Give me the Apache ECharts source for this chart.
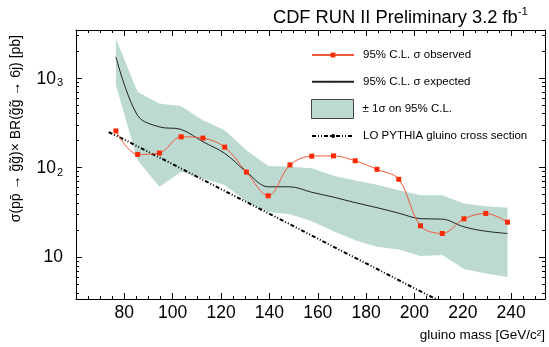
<!DOCTYPE html>
<html><head><meta charset="utf-8">
<script src="https://cdn.jsdelivr.net/npm/echarts@6/dist/echarts.min.js"></script>
<style>html,body{margin:0;padding:0;background:#fff}#c{width:549px;height:347px}</style>
</head><body><div id="c"></div>
<script>
// ---- data ----
const mass = [76.5, 85.5, 94.5, 103.5, 112.5, 121.5, 130.5, 139.5, 148.5, 157.5, 166.5, 175.5, 184.5, 193.5, 202.5, 211.5, 220.5, 229.5, 238.5];
const observed = [256, 140, 145, 220, 213, 169, 89, 48.4, 107, 134, 135, 119, 95.5, 74, 22.4, 18.4, 26.8, 30.8, 24.6];
const expected = [1715, 380, 284, 266, 194, 144, 89.6, 61, 61, 53, 46.8, 40.6, 35.7, 31, 26.9, 26.6, 21.8, 19.5, 18.4];
const bandHigh = [2750, 698, 519, 483, 337, 261, 156, 104, 102, 98, 81, 71.5, 64.4, 56, 49, 49, 39.8, 37, 35.6];
const bandLow = [829, 121, 61, 89.6, 75.5, 63.7, 41.5, 32, 30.2, 25.2, 19.5, 15.5, 13.1, 12.2, 10.3, 10.6, 7.4, 6.6, 6.0];
const loMass = [73.5, 80, 90, 100, 110, 120, 130, 140, 150, 160, 170, 180, 190, 200, 210, 220];
const loXsec = [248, 205, 149, 109, 79, 57.5, 41.9, 30.5, 22.2, 16.1, 11.7, 8.55, 6.2, 4.5, 3.3, 2.4];
const xMajorTicks = [80, 100, 120, 140, 160, 180, 200, 220, 240];
const xMinorTicks = [65, 70, 75, 85, 90, 95, 105, 110, 115, 125, 130, 135, 145, 150, 155, 165, 170, 175, 185, 190, 195, 205, 210, 215, 225, 230, 235, 245, 250];
const yMajorTicks = [10, 100, 1000];
const yMinorTicks = [4, 5, 6, 7, 8, 9, 20, 30, 40, 50, 60, 70, 80, 90, 200, 300, 400, 500, 600, 700, 800, 900, 2000, 3000];

const FF = '"Liberation Sans", Arial, Helvetica, sans-serif';
const BAND = '#bcd9d2';
const OBS_LINE = '#f2583a';
const OBS_MARK = '#ff2a00';
const X_MIN = 60, X_MAX = 254, Y_MIN = 3.42, Y_MAX = 3420;

const axLine = {color: '#000', width: 1};
function xAx(pos, ticks, len, withLabels, withLine) {
  return {
    type: 'value', position: pos, min: X_MIN, max: X_MAX,
    axisLine: {show: withLine, lineStyle: axLine},
    axisTick: {show: true, inside: true, length: len, customValues: ticks, lineStyle: axLine},
    axisLabel: withLabels ? {show: true, customValues: xMajorTicks, fontSize: 17.5, color: '#000', margin: 5, fontFamily: FF} : {show: false},
    splitLine: {show: false}
  };
}
function yAx(pos, ticks, len, withLabels, withLine) {
  return {
    type: 'log', position: pos, min: Y_MIN, max: Y_MAX, logBase: 10,
    axisLine: {show: withLine, lineStyle: axLine},
    axisTick: {show: true, inside: true, length: len, customValues: ticks, lineStyle: axLine},
    axisLabel: withLabels ? {
      show: true, customValues: yMajorTicks, color: '#000', margin: 13, fontFamily: FF, align: 'right',
      formatter: function (v) {
        const e = Math.round(Math.log10(v));
        if (e === 1) return '{p|10}';
        return '{b|10}{s|' + e + '}';
      },
      rich: {
        p: {fontSize: 17.5, fontFamily: FF, color: '#000'},
        b: {fontSize: 17.5, fontFamily: FF, color: '#000', lineHeight: 20, padding: [13, 0, 0, 0], verticalAlign: 'bottom'},
        s: {fontSize: 11, fontFamily: FF, color: '#000', lineHeight: 13, padding: [9.5, 0, 0, 1], verticalAlign: 'top'}
      }
    } : {show: false},
    splitLine: {show: false}
  };
}

const chart = echarts.init(document.getElementById('c'), null, {renderer: 'canvas'});
chart.setOption({
  animation: false,
  backgroundColor: '#fff',
  grid: {left: 76, right: 4, top: 30, bottom: 48, containLabel: false},
  title: {
    text: '{a|CDF RUN II Preliminary 3.2 fb}{s|-1}',
    right: 21, top: 6, padding: 0,
    textStyle: {fontWeight: 'normal', rich: {
      a: {fontSize: 18.3, fontFamily: FF, fontWeight: 'normal', color: '#000', lineHeight: 21, verticalAlign: 'bottom'},
      s: {fontSize: 11.5, fontFamily: FF, fontWeight: 'normal', color: '#000', lineHeight: 13, verticalAlign: 'top'}
    }}
  },
  xAxis: [
    xAx('bottom', xMajorTicks, 6, true, true),
    xAx('top', xMajorTicks, 6, false, true),
    xAx('bottom', xMinorTicks, 3, false, false),
    xAx('top', xMinorTicks, 3, false, false)
  ],
  yAxis: [
    yAx('left', yMajorTicks, 6, true, true),
    yAx('right', yMajorTicks, 6, false, true),
    yAx('left', yMinorTicks, 3, false, false),
    yAx('right', yMinorTicks, 3, false, false)
  ],
  legend: [
    {data: ['95% C.L. σ observed'], left: 311, top: 48, itemWidth: 42, itemHeight: 6, padding: 0, selectedMode: false,
      textStyle: {fontSize: 11.5, fontFamily: FF, color: '#000', lineHeight: 14, padding: [0, 0, 0, 4]}},
    {data: ['95% C.L. σ expected'], left: 311, top: 74.7, itemWidth: 42, itemHeight: 2, padding: 0, selectedMode: false,
      textStyle: {fontSize: 11.5, fontFamily: FF, color: '#000', lineHeight: 14, padding: [0, 0, 0, 4]}},
    {data: [{name: '± 1σ on 95% C.L.', icon: 'rect', itemStyle: {color: BAND, borderColor: '#444', borderWidth: 1}}],
      left: 311, top: 99, itemWidth: 42, itemHeight: 19, padding: 0, selectedMode: false,
      textStyle: {fontSize: 11.5, fontFamily: FF, color: '#000', lineHeight: 14, padding: [0, 0, 0, 4]}},
    {data: ['LO PYTHIA gluino cross section'], left: 311, top: 129, itemWidth: 42, itemHeight: 5, padding: 0, selectedMode: false,
      textStyle: {fontSize: 11.5, fontFamily: FF, color: '#000', lineHeight: 14, padding: [0, 0, 0, 4]}}
  ],
  graphic: [
    {type: 'text', x: 545, y: 335, style: {text: 'gluino mass [GeV/c²]', fontSize: 13.5, fontFamily: FF, fill: '#000', align: 'right', verticalAlign: 'middle'}},
    {type: 'text', x: 16, y: 35, rotation: Math.PI / 2,
      style: {text: 'σ(pp\u0304 → g\u0303g\u0303)× BR(g\u0303g\u0303 → 6j) [pb]', fontSize: 14, fontFamily: FF, fill: '#000', align: 'right', verticalAlign: 'middle'}}
  ],
  series: [
    {
      type: 'custom', name: '± 1σ on 95% C.L.', z: 1, clip: true,
      data: mass.map((m, i) => [m, bandLow[i], bandHigh[i]]),
      encode: {x: 0, y: [1, 2]},
      itemStyle: {color: BAND},
      renderItem: function (params, api) {
        if (params.dataIndex !== 0) return null;
        const pts = [];
        for (let i = 0; i < mass.length; i++) pts.push(api.coord([mass[i], bandHigh[i]]));
        for (let i = mass.length - 1; i >= 0; i--) pts.push(api.coord([mass[i], bandLow[i]]));
        return {type: 'polygon', shape: {points: pts}, style: {fill: BAND, stroke: null}};
      }
    },
    {
      type: 'line', name: 'LO PYTHIA gluino cross section', z: 3,
      data: loMass.map((m, i) => [m, loXsec[i]]),
      symbol: 'circle', symbolSize: 4, showSymbol: false,
      itemStyle: {color: '#000'},
      lineStyle: {color: '#000', width: 2, type: [4, 2, 1, 2, 1, 2]}
    },
    {
      type: 'line', name: '95% C.L. σ expected', z: 4, smooth: 0.35,
      data: mass.map((m, i) => [m, expected[i]]),
      symbol: 'none', itemStyle: {color: '#222'},
      lineStyle: {color: '#222', width: 1}
    },
    {
      type: 'line', name: '95% C.L. σ observed', z: 5, smooth: 0.35,
      data: mass.map((m, i) => [m, observed[i]]),
      symbol: 'rect', symbolSize: 5, showSymbol: true,
      itemStyle: {color: OBS_MARK},
      lineStyle: {color: OBS_LINE, width: 1}
    }
  ]
});
</script>
</body></html>
